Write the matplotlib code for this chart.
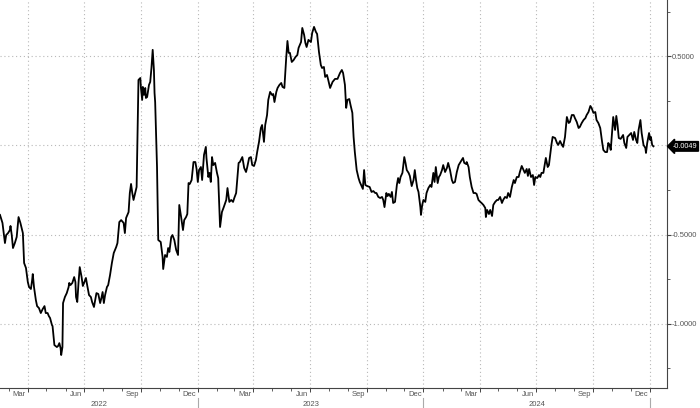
import numpy as np
import pandas as pd
import matplotlib
matplotlib.use("Agg")
import matplotlib.pyplot as plt
import matplotlib.dates as mdates
from matplotlib.ticker import FixedLocator, FuncFormatter

plt.rcParams['font.family'] = ['Liberation Sans', 'DejaVu Sans']

# series: days after start_date, value
start_date = pd.Timestamp("2022-02-15")
days = [
    0, 4, 8, 10, 13, 16, 17, 19, 21, 24, 27, 30, 33, 37, 39, 42, 45, 47, 50, 52,
    53, 55, 58, 60, 63, 66, 69, 72, 74, 77, 79, 81, 84, 85, 88, 92, 94, 96, 98, 99,
    101, 102, 105, 108, 111, 112, 114, 117, 120, 122, 123, 125, 127, 129, 132, 134, 136, 139, 141, 144,
    147, 149, 152, 154, 156, 159, 162, 164, 166, 168, 170, 173, 175, 178, 181, 184, 188, 190, 193, 196,
    200, 202, 204, 208, 210, 212, 214, 216, 219, 221, 224, 227, 228, 230, 231, 233, 235, 236, 238, 241,
    243, 245, 247, 249, 250, 251, 254, 256, 260, 263, 264, 267, 270, 272, 274, 277, 279, 282, 285, 288,
    290, 293, 296, 298, 301, 303, 305, 307, 310, 313, 316, 318, 320, 322, 325, 327, 330, 333, 334, 337,
    339, 341, 343, 345, 348, 351, 353, 356, 359, 362, 366, 368, 371, 374, 377, 379, 382, 386, 388, 392,
    395, 398, 400, 403, 406, 408, 411, 414, 416, 419, 422, 424, 427, 429, 432, 434, 437, 440, 442, 444,
    447, 449, 452, 455, 457, 460, 463, 465, 467, 469, 472, 475, 478, 481, 483, 487, 489, 492, 494, 496,
    499, 503, 505, 508, 511, 513, 516, 519, 521, 524, 526, 529, 531, 534, 538, 542, 546, 550, 553, 555,
    558, 560, 562, 565, 567, 570, 572, 574, 577, 580, 582, 585, 587, 589, 591, 594, 598, 601, 604, 607,
    609, 612, 615, 618, 620, 622, 625, 627, 629, 632, 634, 636, 639, 642, 644, 646, 648, 651, 654, 656,
    658, 661, 663, 666, 669, 671, 673, 675, 677, 680, 681, 683, 685, 688, 690, 693, 696, 698, 701, 703,
    705, 708, 710, 712, 715, 717, 720, 723, 725, 728, 731, 733, 736, 739, 742, 744, 747, 749, 751, 754,
    755, 758, 760, 763, 766, 769, 771, 774, 777, 779, 782, 785, 786, 788, 791, 793, 796, 798, 801, 804,
    806, 809, 812, 814, 817, 820, 822, 825, 828, 831, 833, 836, 839, 841, 844, 847, 849, 852, 854, 856,
    859, 862, 864, 866, 869, 872, 874, 876, 879, 882, 883, 886, 888, 892, 894, 898, 901, 903, 906, 909,
    911, 914, 917, 920, 922, 925, 928, 930, 933, 936, 938, 941, 944, 947, 949, 952, 955, 957, 960, 963,
    965, 968, 971, 974, 976, 979, 982, 984, 986, 988, 990, 992, 995, 997, 999, 1001, 1004, 1008, 1010, 1013,
    1015, 1018, 1021, 1024, 1026, 1029, 1031, 1033, 1036, 1038, 1041, 1044, 1045, 1047, 1050, 1052, 1053, 1055, 1057,
]
values = [
    -0.390, -0.435, -0.548, -0.503, -0.492, -0.475, -0.452, -0.503, -0.576, -0.548,
    -0.514, -0.402, -0.435, -0.492, -0.660, -0.688, -0.767, -0.795, -0.806, -0.756,
    -0.722, -0.795, -0.868, -0.902, -0.913, -0.941, -0.919, -0.902, -0.941, -0.941,
    -0.958, -0.969, -1.008, -1.014, -1.121, -1.132, -1.126, -1.110, -1.138, -1.177,
    -1.132, -0.885, -0.851, -0.829, -0.795, -0.772, -0.784, -0.772, -0.739, -0.767,
    -0.851, -0.879, -0.772, -0.683, -0.739, -0.789, -0.772, -0.744, -0.784, -0.840,
    -0.851, -0.879, -0.907, -0.868, -0.829, -0.834, -0.885, -0.857, -0.823, -0.885,
    -0.840, -0.795, -0.784, -0.728, -0.660, -0.604, -0.570, -0.548, -0.430, -0.419,
    -0.435, -0.492, -0.407, -0.374, -0.267, -0.216, -0.267, -0.306, -0.261, -0.233,
    0.368, 0.379, 0.323, 0.256, 0.329, 0.284, 0.323, 0.267, 0.272, 0.340,
    0.357, 0.435, 0.537, 0.424, 0.295, 0.244, -0.121, -0.531, -0.542, -0.626,
    -0.694, -0.615, -0.626, -0.576, -0.598, -0.514, -0.503, -0.531, -0.587, -0.615,
    -0.334, -0.402, -0.475, -0.419, -0.402, -0.385, -0.211, -0.216, -0.194, -0.093,
    -0.093, -0.132, -0.205, -0.138, -0.121, -0.194, -0.053, -0.008, -0.070, -0.177,
    -0.154, -0.205, -0.065, -0.110, -0.098, -0.154, -0.183, -0.458, -0.374, -0.346,
    -0.306, -0.239, -0.317, -0.306, -0.317, -0.295, -0.267, -0.098, -0.093, -0.065,
    -0.126, -0.149, -0.121, -0.070, -0.065, -0.110, -0.115, -0.081, -0.037, 0.020,
    0.098, 0.115, 0.020, 0.115, 0.171, 0.256, 0.301, 0.284, 0.289, 0.244,
    0.301, 0.323, 0.340, 0.351, 0.329, 0.323, 0.492, 0.587, 0.520, 0.520,
    0.469, 0.480, 0.497, 0.508, 0.548, 0.581, 0.660, 0.621, 0.576, 0.553,
    0.593, 0.581, 0.632, 0.666, 0.638, 0.626, 0.525, 0.452, 0.435, 0.441,
    0.385, 0.396, 0.368, 0.323, 0.357, 0.374, 0.374, 0.407, 0.424, 0.407,
    0.340, 0.211, 0.256, 0.261, 0.228, 0.183, 0.048, -0.037, -0.138, -0.183,
    -0.205, -0.228, -0.244, -0.138, -0.222, -0.228, -0.233, -0.261, -0.256, -0.267,
    -0.267, -0.289, -0.295, -0.289, -0.306, -0.346, -0.267, -0.284, -0.272, -0.289,
    -0.261, -0.323, -0.317, -0.222, -0.183, -0.211, -0.177, -0.154, -0.065, -0.098,
    -0.138, -0.154, -0.171, -0.228, -0.194, -0.138, -0.194, -0.239, -0.261, -0.346,
    -0.390, -0.334, -0.306, -0.317, -0.267, -0.239, -0.222, -0.233, -0.154, -0.205,
    -0.121, -0.211, -0.177, -0.166, -0.138, -0.110, -0.149, -0.126, -0.098, -0.138,
    -0.194, -0.211, -0.205, -0.149, -0.110, -0.098, -0.081, -0.070, -0.098, -0.104,
    -0.093, -0.121, -0.177, -0.233, -0.267, -0.267, -0.272, -0.306, -0.317, -0.323,
    -0.334, -0.351, -0.402, -0.362, -0.385, -0.362, -0.396, -0.334, -0.317, -0.306,
    -0.306, -0.289, -0.323, -0.306, -0.289, -0.295, -0.267, -0.289, -0.233, -0.194,
    -0.211, -0.177, -0.177, -0.149, -0.115, -0.138, -0.154, -0.132, -0.171, -0.132,
    -0.177, -0.166, -0.222, -0.177, -0.183, -0.166, -0.177, -0.154, -0.154, -0.093,
    -0.070, -0.121, -0.110, 0.003, 0.048, 0.042, 0.014, 0.003, 0.025, 0.003,
    -0.008, 0.048, 0.160, 0.126, 0.132, 0.171, 0.171, 0.154, 0.132, 0.098,
    0.104, 0.126, 0.143, 0.154, 0.171, 0.188, 0.222, 0.211, 0.183, 0.188,
    0.143, 0.126, 0.098, 0.020, -0.025, -0.037, -0.037, 0.014, 0.003, -0.025,
    0.070, 0.160, 0.087, 0.166, 0.115, 0.042, 0.037, 0.059, 0.014, -0.014,
    0.048, 0.059, 0.070, 0.031, 0.076, 0.031, 0.014, 0.087, 0.143, 0.070,
    0.003, -0.014, -0.042, 0.014, 0.070, 0.031, 0.048, 0.003, -0.0049,
]

y_major = [0.5, 0.0, -0.5, -1.0]
y_minor = [0.75, 0.25, -0.25, -0.75, -1.25]
month_names = ["Mar", "Jun", "Sep", "Dec"]
years = [2022, 2023, 2024]
last_label = "-0.0049"

dates = start_date + pd.to_timedelta(days, unit="D")
x_end = start_date + pd.Timedelta(days=1079)

fig = plt.figure(figsize=(7.0, 4.08), dpi=100)
ax = fig.add_axes([0.0, 20 / 408, 667 / 700, 388 / 408])
ax.plot(dates, values, color="black", lw=1.3, solid_joinstyle="round")

ax.set_xlim(start_date, x_end)
ax.set_ylim(-1.362, 0.817)

grid_col = "#b8b8b8"
txt_col = "#555555"

# quarter gridlines
quarters = pd.date_range("2022-04-01", "2025-01-01", freq="QS")
for q in quarters:
    ax.axvline(q, color=grid_col, lw=0.8, ls=(0, (1, 2.5)), zorder=0)
for v in y_major:
    ax.axhline(v, color=grid_col, lw=0.8, ls=(0, (1, 2.5)), zorder=0)

for s in ["top", "left"]:
    ax.spines[s].set_visible(False)
for s in ["right", "bottom"]:
    ax.spines[s].set_color("#444444")
    ax.spines[s].set_linewidth(0.8)

# y axis on the right
ax.yaxis.tick_right()
ax.yaxis.set_major_locator(FixedLocator(y_major))
ax.yaxis.set_minor_locator(FixedLocator(y_minor))
ax.yaxis.set_major_formatter(FuncFormatter(lambda v, p: "" if abs(v) < 1e-9 else f"{v:.4f}"))
ax.tick_params(axis="y", which="major", length=3, width=0.8, color="#444444",
               labelsize=5.5, labelcolor=txt_col, pad=0.5)
ax.tick_params(axis="y", which="minor", length=2, width=0.6, color="#444444")

# x axis: monthly minor ticks, labels drawn by hand
ax.xaxis.set_major_locator(mdates.MonthLocator(bymonth=[1, 4, 7, 10]))
ax.xaxis.set_minor_locator(mdates.MonthLocator())
ax.xaxis.set_major_formatter(FuncFormatter(lambda v, p: ""))
ax.tick_params(axis="x", which="major", length=3, width=0.7, color="#444444")
ax.tick_params(axis="x", which="minor", length=2, width=0.6, color="#444444")

trans = ax.get_xaxis_transform()
for y in years:
    for m, name in zip([3, 6, 9, 12], month_names):
        d = pd.Timestamp(year=y, month=m, day=18)
        if start_date <= d <= x_end:
            ax.text(d, -7 / 388, name, transform=trans, ha="center", va="center",
                    fontsize=5.5, color=txt_col, clip_on=False)
    y0 = max(pd.Timestamp(year=y, month=1, day=1), start_date)
    y1 = pd.Timestamp(year=y + 1, month=1, day=1)
    mid = y0 + (y1 - y0) / 2
    ax.text(mid, -16 / 388, str(y), transform=trans, ha="center", va="center",
            fontsize=5.5, color=txt_col, clip_on=False)
    ax.plot([y1, y1], [-10 / 388, -20 / 388], transform=trans, color="#aaaaaa",
            lw=0.8, clip_on=False)

# last value tag
ax.annotate(last_label, xy=(1.0, values[-1]), xycoords=("axes fraction", "data"),
            xytext=(4, 0), textcoords="offset points", ha="left", va="center",
            fontsize=5.2, color="white",
            bbox=dict(boxstyle="larrow,pad=0.18", fc="black", ec="black"),
            annotation_clip=False)

fig.savefig("out.png", dpi=100)
